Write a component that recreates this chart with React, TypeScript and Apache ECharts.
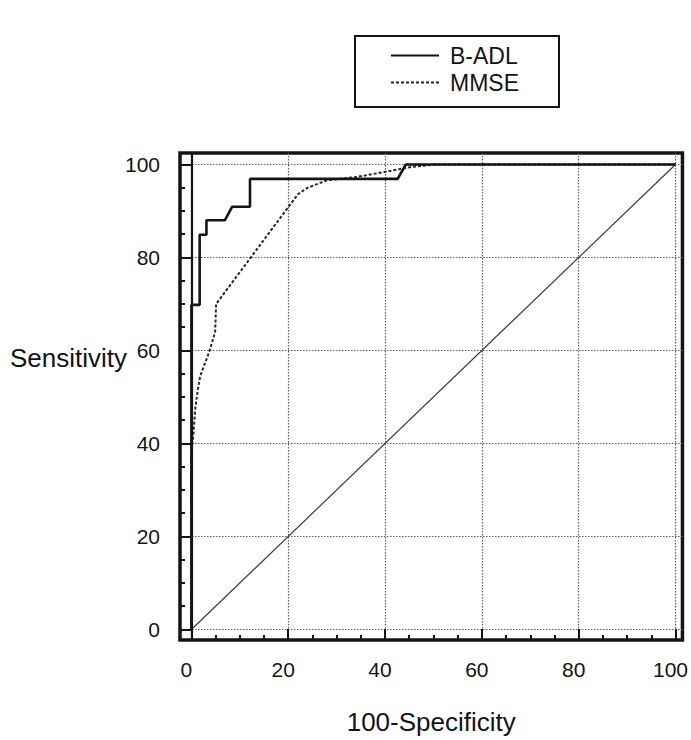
import React, { useEffect, useRef } from "react";
import * as echarts from "echarts";

// ---- data ----
const badlX = [0, 0, 1.7, 1.7, 3.1, 3.1, 6.9, 8.4, 12.1, 12.1, 42.6, 44.3, 100];
const badlY = [0, 69.8, 69.8, 84.9, 84.9, 88.0, 88.0, 90.9, 90.9, 96.9, 96.9, 100, 100];

const mmseX = [0, 0, 0.4, 0.8, 1.3, 1.8, 2.5, 3.3, 4.2, 4.9, 5.1, 22.0, 24.0, 28.0, 34.0, 41.0, 45.5, 50.5, 100];
const mmseY = [0, 38, 42, 47.5, 51.5, 54.4, 56.5, 58.6, 61.5, 64.0, 70.0, 93.6, 95.0, 96.6, 97.3, 98.6, 99.5, 100, 100];

const chanceX = [0, 100];
const chanceY = [0, 100];

const majorTicks = [0, 20, 40, 60, 80, 100];
const minorTicks = [0, 5, 10, 15, 20, 25, 30, 35, 40, 45, 50, 55, 60, 65, 70, 75, 80, 85, 90, 95, 100];
const tickLabels = [0, 20, 40, 60, 80, 100];

const seriesNames = ["B-ADL", "MMSE"];
const xTitle = "100-Specificity";
const yTitle = "Sensitivity";

// axis extents (frame extends slightly past 0..100)
const X_MIN = -2.36;
const X_MAX = 101.44;
const Y_MIN = -2.26;
const Y_MAX = 102.47;

const FONT = "'Liberation Sans', Arial, Helvetica, sans-serif";
const INK = "#141414";

const zip = (xs: number[], ys: number[]) => xs.map((x, i) => [x, ys[i]]);

export default function App() {
  const ref = useRef<HTMLDivElement>(null);

  useEffect(() => {
    if (!ref.current) return;
    const chart = echarts.init(ref.current, undefined, { renderer: "svg" });

    const baseAxis = (min: number, max: number) => ({
      type: "value" as const,
      min,
      max,
      scale: true,
    });

    chart.setOption({
      animation: false,
      backgroundColor: "#ffffff",
      textStyle: { fontFamily: FONT },
      grid: {
        left: 180,
        top: 153,
        width: 505,
        height: 509,
        show: true,
        borderColor: INK,
        borderWidth: 3.5,
        backgroundColor: "transparent",
      },
      legend: {
        data: seriesNames,
        orient: "vertical",
        left: 355,
        top: 36,
        itemWidth: 48,
        itemHeight: 14,
        itemGap: 4,
        padding: [8, 40, 13, 35],
        borderColor: INK,
        borderWidth: 2,
        borderRadius: 0,
        itemStyle: { opacity: 0 },
        textStyle: { fontSize: 23, color: INK, fontFamily: FONT, padding: [0, 0, 0, 6] },
      },
      xAxis: [
        {
          ...baseAxis(X_MIN, X_MAX),
          position: "bottom",
          axisLine: { show: false, onZero: false },
          axisTick: {
            show: true,
            inside: true,
            length: 5,
            customValues: minorTicks,
            lineStyle: { color: INK, width: 2 },
          },
          axisLabel: {
            show: true,
            customValues: tickLabels,
            fontSize: 21,
            color: INK,
            fontFamily: FONT,
            margin: 19,
            padding: [0, 10, 0, 0],
          },
          splitLine: { show: false },
          name: xTitle,
          nameLocation: "middle",
          nameGap: 69,
          nameTextStyle: { fontSize: 26, color: INK, fontFamily: FONT },
        },
        {
          ...baseAxis(X_MIN, X_MAX),
          position: "bottom",
          axisLine: { show: false, onZero: false },
          axisTick: {
            show: true,
            inside: true,
            length: 11,
            customValues: majorTicks,
            lineStyle: { color: INK, width: 2 },
          },
          axisLabel: { show: false },
          splitLine: {
            show: true,
            lineStyle: { color: "#5e5e5e", type: [1.5, 1.5], width: 1.2 },
          },
        },
      ],
      yAxis: [
        {
          ...baseAxis(Y_MIN, Y_MAX),
          position: "left",
          axisLine: { show: false, onZero: false },
          axisTick: {
            show: true,
            inside: true,
            length: 5,
            customValues: minorTicks,
            lineStyle: { color: INK, width: 2 },
          },
          axisLabel: {
            show: true,
            customValues: tickLabels,
            fontSize: 21,
            color: INK,
            fontFamily: FONT,
            margin: 20,
          },
          splitLine: { show: false },
        },
        {
          ...baseAxis(Y_MIN, Y_MAX),
          position: "left",
          axisLine: { show: false, onZero: false },
          axisTick: {
            show: true,
            inside: true,
            length: 11,
            customValues: majorTicks,
            lineStyle: { color: INK, width: 2 },
          },
          axisLabel: { show: false },
          splitLine: {
            show: true,
            lineStyle: { color: "#5e5e5e", type: [1.5, 1.5], width: 1.2 },
          },
        },
      ],
      graphic: [
        {
          type: "text",
          left: 10,
          top: 345,
          style: {
            text: yTitle,
            fontSize: 26,
            fill: INK,
            fontFamily: FONT,
          },
        },
      ],
      series: [
        {
          name: "chance",
          type: "line",
          xAxisIndex: 0,
          yAxisIndex: 0,
          data: zip(chanceX, chanceY),
          symbol: "none",
          silent: true,
          z: 1,
          lineStyle: { color: "#3c3c3c", width: 1.2 },
        },
        {
          name: seriesNames[1],
          type: "line",
          xAxisIndex: 0,
          yAxisIndex: 0,
          data: zip(mmseX, mmseY),
          symbol: "none",
          z: 2,
          lineStyle: { color: "#262626", width: 2, type: [3, 2] },
          itemStyle: { color: "#262626" },
        },
        {
          name: seriesNames[0],
          type: "line",
          xAxisIndex: 0,
          yAxisIndex: 0,
          data: zip(badlX, badlY),
          symbol: "none",
          z: 3,
          lineStyle: { color: INK, width: 2.6 },
          itemStyle: { color: INK },
          markLine: {
            silent: true,
            symbol: ["none", "none"],
            label: { show: false },
            lineStyle: { color: INK, type: "solid", width: 2.2 },
            data: [{ xAxis: 0 }],
          },
        },
      ],
    });

    return () => chart.dispose();
  }, []);

  return (
    <div
      ref={ref}
      style={{ position: "fixed", left: 0, top: 0, width: 691, height: 740, background: "#fff" }}
    />
  );
}
